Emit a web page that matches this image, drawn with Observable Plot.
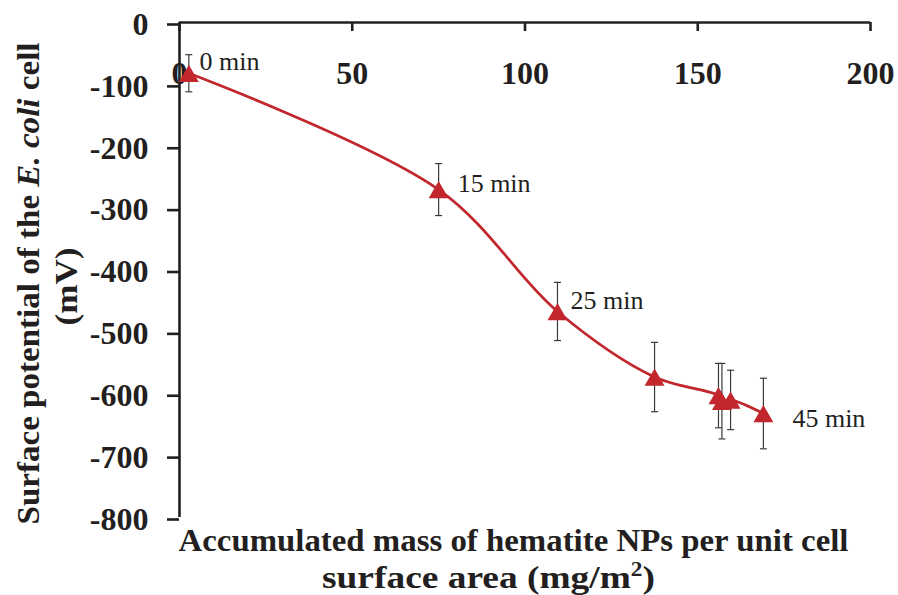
<!DOCTYPE html>
<html>
<head>
<meta charset="utf-8">
<script src="https://cdn.jsdelivr.net/npm/d3@7"></script>
<script src="https://cdn.jsdelivr.net/npm/@observablehq/plot@0.6"></script>
<style>
  html, body { margin: 0; padding: 0; background: #fff; }
</style>
</head>
<body>
<div id="chart"></div>
<script>
// ---- data ----
const massX   = [2.7, 75, 109.4, 137.5, 156, 157, 159.5, 169];        // mg/m²
const potY    = [-82, -270, -467, -573, -603, -612, -610, -632];      // mV
const potErr  = [30, 42, 47, 56, 52, 61, 48, 57];                     // ± mV
const labelText = ["0 min", "15 min", "25 min", "45 min"];
const labelX    = [5.8, 80.5, 113.2, 177.4];
const labelY    = [-64, -260, -449, -641];
const xTicks = [0, 50, 100, 150, 200];
const yTicks = [0, -100, -200, -300, -400, -500, -600, -700, -800];
const yTitle1 = "Surface potential of the E. coli cell";
const yTitle2 = "(mV)";
const xTitle1 = "Accumulated mass of hematite NPs per unit cell";
const xTitle2 = "surface area (mg/m2)";

const points = massX.map((x, i) => ({x, y: potY[i], e: potErr[i]}));
const labels = labelText.map((t, i) => ({t, x: labelX[i], y: labelY[i]}));

const RED = "#c1272d";
const INK = "#231f20";
const capSymbol = {
  draw(ctx, size) {
    const w = Math.sqrt(size / Math.PI);
    ctx.moveTo(-w, 0);
    ctx.lineTo(w, 0);
  }
};
const bold = {fill: INK, fontSize: 32, fontWeight: "bold", textAnchor: "middle", lineAnchor: "middle"};

const chart = Plot.plot({
  width: 898,
  height: 595,
  marginLeft: 179,
  marginRight: 28,
  marginTop: 22,
  marginBottom: 78,
  style: {fontFamily: "'Liberation Serif', 'Times New Roman', serif", fontSize: "32px", fontWeight: "bold", color: INK, background: "#fff"},
  x: {domain: [0, 200], axis: null},
  y: {domain: [-800, 0], axis: null},
  marks: [
    Plot.axisY({ticks: yTicks, tickSize: 12, tickPadding: 19, tickFormat: d => String(d),
                label: null, stroke: INK, strokeWidth: 2.6, fill: INK, fontSize: 32, fontWeight: "bold", dy: 2}),
    Plot.ruleX([0], {stroke: INK, strokeWidth: 2.6}),
    Plot.ruleY([0], {stroke: INK, strokeWidth: 2.6}),
    Plot.tickX(xTicks, {x: d => d, insetBottom: 486, stroke: INK, strokeWidth: 2.6}),
    Plot.text(xTicks, {x: d => d, frameAnchor: "top", dy: 51, text: d => String(d), ...bold}),
    // axis titles
    Plot.text([yTitle1], {frameAnchor: "left", rotate: -90, dx: -151, dy: 13.5, text: d => d, ...bold}),
    Plot.text([yTitle2], {frameAnchor: "left", rotate: -90, dx: -113, dy: 16.5, text: d => d, ...bold}),
    Plot.text([xTitle1], {frameAnchor: "bottom", dx: -11.5, dy: 23, text: d => d, ...bold}),
    Plot.text([xTitle2], {frameAnchor: "bottom", dx: -36.5, dy: 60, text: d => d, ...bold}),
    // data
    Plot.line(points, {x: "x", y: "y", curve: "catmull-rom", stroke: RED, strokeWidth: 2.7}),
    Plot.ruleX(points, {x: "x", y1: d => d.y - d.e, y2: d => d.y + d.e, stroke: "#3a3a3a", strokeWidth: 1.2}),
    Plot.dot(points, {x: "x", y: d => d.y + d.e, symbol: capSymbol, r: 3.5, stroke: "#3a3a3a", strokeWidth: 1.2}),
    Plot.dot(points, {x: "x", y: d => d.y - d.e, symbol: capSymbol, r: 3.5, stroke: "#3a3a3a", strokeWidth: 1.2}),
    Plot.dot(points, {x: "x", y: "y", symbol: "triangle", r: 7.4, fill: RED, stroke: "none", dy: 3}),
    Plot.text(labels, {x: "x", y: "y", text: "t", textAnchor: "start", lineAnchor: "middle", fill: INK, fontSize: 26, fontWeight: "normal"})
  ]
});

document.getElementById("chart").appendChild(chart);

// rich text for the titles (italic species name, superscript) and condensed widths
const NS = "http://www.w3.org/2000/svg";
function rebuild(el, parts, width) {
  el.textContent = "";
  for (const [s, style] of parts) {
    const t = document.createElementNS(NS, "tspan");
    t.textContent = s;
    if (style === "i") t.setAttribute("font-style", "italic");
    if (style === "sup") { t.setAttribute("font-size", "20"); t.setAttribute("dy", "-12"); }
    if (style === "after") t.setAttribute("dy", "12");
    el.appendChild(t);
  }
  if (width) { el.setAttribute("textLength", width); el.setAttribute("lengthAdjust", "spacingAndGlyphs"); }
}
chart.querySelectorAll("text").forEach(el => {
  const s = el.textContent;
  if (s === yTitle1) rebuild(el, [["Surface potential of the ", ""], ["E. coli", "i"], [" cell", ""]], 482);
  else if (s === yTitle2) rebuild(el, [["(mV)", ""]], 78);
  else if (s === xTitle1) rebuild(el, [[xTitle1, ""]], 670);
  else if (s === xTitle2) rebuild(el, [["surface area (mg/m", ""], ["2", "sup"], [")", "after"]], 333);
});
</script>
</body>
</html>
